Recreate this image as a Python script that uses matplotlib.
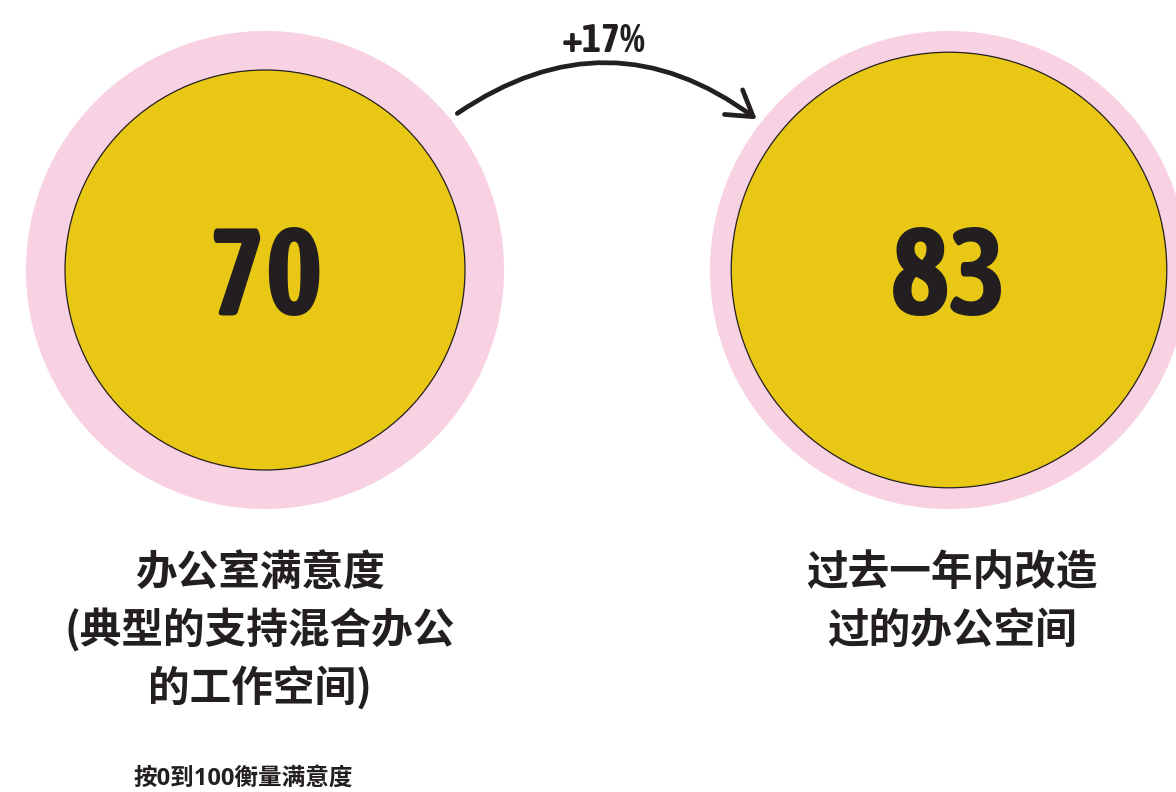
import numpy as np
import matplotlib.pyplot as plt
from matplotlib.patches import Circle, FancyArrowPatch
from matplotlib import font_manager as fm

# 数据
values = [70, 83]
scale_max = 100
change_label = "+17%"
labels = [
    ["办公室满意度", "(典型的支持混合办公", "的工作空间)"],
    ["过去一年内改造", "过的办公空间"],
]
note = "按0到100衡量满意度"

pink = "#F8D1E2"
yellow = "#E9C715"
ink = "#231F20"

cjk = ["Noto Sans CJK SC", "DejaVu Sans"]

# 找一个窄体粗体字体给数字用
num_font, num_stretch = "DejaVu Sans", "condensed"
for f in fm.fontManager.ttflist:
    if ("Narrow" in f.name or "Condensed" in f.name) and f.weight in (600, 700, 800, 900, "bold"):
        num_font, num_stretch = f.name, "normal"
        break

fig = plt.figure(figsize=(11.76, 7.92), dpi=100)
ax = fig.add_axes([0, 0, 1, 1])
ax.set_xlim(0, 1176)
ax.set_ylim(792, 0)
ax.set_aspect("equal")
ax.axis("off")

# 圆面积与数值成正比
k = 200 / np.sqrt(values[0])
centers = [(265, 270), (949, 270)]

for (cx, cy), v in zip(centers, values):
    ax.add_patch(Circle((cx, cy), k * np.sqrt(scale_max), facecolor=pink, edgecolor="none"))
    ax.add_patch(Circle((cx, cy), k * np.sqrt(v), facecolor=yellow, edgecolor=ink, lw=0.9))
    ax.text(cx, cy + 11, str(v), ha="center", va="center", fontsize=89,
            fontweight="bold", family=num_font, stretch=num_stretch, color=ink)

arrow = FancyArrowPatch((455, 115), (759, 121), connectionstyle="arc3,rad=-0.36",
                        arrowstyle="->,head_length=0.8,head_width=0.5",
                        mutation_scale=22, lw=3.4, color=ink)
ax.add_patch(arrow)
ax.text(604, 41, change_label, ha="center", va="center", fontsize=29,
        fontweight="bold", family=num_font, stretch=num_stretch, color=ink)

label_x = [260, 952]
for x, lines in zip(label_x, labels):
    for i, line in enumerate(lines):
        ax.text(x, 573 + i * 58, line, ha="center", va="center", fontsize=30,
                fontweight="black", family=cjk, color=ink)

ax.text(133, 779, note, ha="left", va="center", fontsize=17,
        fontweight="bold", family=["Open Sans", "Noto Sans CJK SC"], color=ink)

fig.savefig("out.png", dpi=100)
